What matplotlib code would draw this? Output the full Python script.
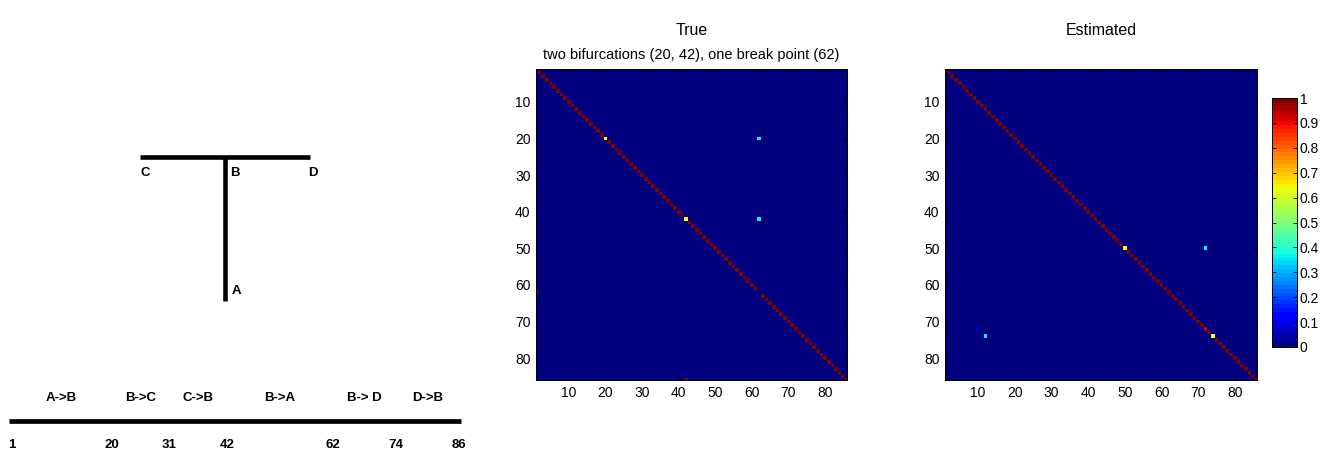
import numpy as np
import matplotlib
matplotlib.use("Agg")
from matplotlib import pyplot as plt
from matplotlib.ticker import FuncFormatter

plt.rcParams['font.family'] = ['Liberation Sans', 'DejaVu Sans']

# trajectory segments along the time axis
seg_bounds = [1, 20, 31, 42, 62, 74, 86]
seg_labels = ['A->B', 'B->C', 'C->B', 'B->A', 'B-> D', 'D->B']

# tree nodes
node_names = ['C', 'B', 'D', 'A']

n_nodes = 86

# true transition matrix: identity with a few edits
true_gaps = [62]
true_rows = [20, 20, 42, 42, 62, 86]
true_cols = [20, 62, 42, 62, 1, 42]
true_vals = [0.63, 0.37, 0.63, 0.37, 1.0, 1.0]

# estimated transition matrix
est_gaps = []
est_rows = [50, 50, 72, 72, 74, 74]
est_cols = [50, 72, 72, 10, 74, 12]
est_vals = [0.63, 0.37, 0.93, 0.07, 0.63, 0.37]

cbar_ticks = [0, 0.1, 0.2, 0.3, 0.4, 0.5, 0.6, 0.7, 0.8, 0.9, 1]


def buildMatrix(gaps, rows, cols, vals):
    m = np.eye(n_nodes)
    for g in gaps:
        m[g - 1, g - 1] = 0
    for r, c, v in zip(rows, cols, vals):
        m[r - 1, c - 1] = v
    return m


W, H = 1323, 450
fig = plt.figure(figsize=(W / 100, H / 100), dpi=100)


def px_axes(left, top, width, height):
    return fig.add_axes([left / W, 1 - (top + height) / H, width / W, height / H])


# ---- tree sketch (pixel coordinates) ----
axT = px_axes(0, 0, 476, 450)
axT.set_xlim(0, 476)
axT.set_ylim(450, 0)
axT.axis('off')
axT.plot([140, 310], [157, 157], color='black', lw=3.3, solid_capstyle='butt')
axT.plot([225, 225], [157, 301], color='black', lw=3.3, solid_capstyle='butt')
node_xy = [(145.5, 173.5), (235, 173.5), (313, 173.5), (236.5, 291.5)]
for name, (x, y) in zip(node_names, node_xy):
    axT.text(x, y, name, ha='center', va='center', fontsize=9.5, fontweight='bold')

# ---- timeline ----
axL = px_axes(0, 0, 476, 450)
px_per = 5.26
x0 = 11.7
axL.set_xlim(1 - x0 / px_per, 1 + (476 - x0) / px_per)
axL.set_ylim(450, 0)
axL.axis('off')
axL.plot([seg_bounds[0] - 0.45, seg_bounds[-1] + 0.35], [421, 421], color='black',
         lw=3.4, solid_capstyle='butt')
for b in seg_bounds:
    axL.text(b, 444.5, str(b), ha='center', va='center', fontsize=9.5, fontweight='bold')
for i, lab in enumerate(seg_labels):
    mid = (seg_bounds[i] + seg_bounds[i + 1]) / 2.0
    axL.text(mid, 398, lab, ha='center', va='center', fontsize=9.5, fontweight='bold')

# ---- matrices ----
cmap = plt.get_cmap('jet', 64)


def drawMatrix(ax, m):
    im = ax.imshow(m, cmap=cmap, vmin=0, vmax=1, interpolation='nearest',
                   extent=(0.5, n_nodes + 0.5, n_nodes + 0.5, 0.5), aspect='auto')
    ax.set_xlim(1, n_nodes)
    ax.set_ylim(n_nodes, 1)
    ticks = np.arange(10, 81, 10)
    ax.set_xticks(ticks)
    ax.set_yticks(ticks)
    ax.tick_params(direction='in', length=3, width=0.6, top=True, right=True,
                   labelsize=10, pad=4)
    for s in ax.spines.values():
        s.set_linewidth(0.7)
    return im


axA = px_axes(536, 69, 311, 311)
drawMatrix(axA, buildMatrix(true_gaps, true_rows, true_cols, true_vals))
axA.text(0.5, 1.125, 'True', transform=axA.transAxes, ha='center', va='center',
         fontsize=11.5)
axA.text(0.5, 1.045, 'two bifurcations (20, 42), one break point (62)',
         transform=axA.transAxes, ha='center', va='center', fontsize=10.5)

axB = px_axes(945, 69, 312, 311)
im = drawMatrix(axB, buildMatrix(est_gaps, est_rows, est_cols, est_vals))
axB.text(0.5, 1.125, 'Estimated', transform=axB.transAxes, ha='center', va='center',
         fontsize=11.5)

cax = px_axes(1272, 98, 25, 249)
cb = fig.colorbar(im, cax=cax, ticks=cbar_ticks)
cb.ax.yaxis.set_major_formatter(FuncFormatter(lambda v, p: '%g' % v))
cb.ax.tick_params(direction='in', length=3, width=0.6, left=True, right=True,
                  labelsize=10, pad=2)
cb.outline.set_linewidth(0.7)

fig.savefig('out.png', dpi=100)
